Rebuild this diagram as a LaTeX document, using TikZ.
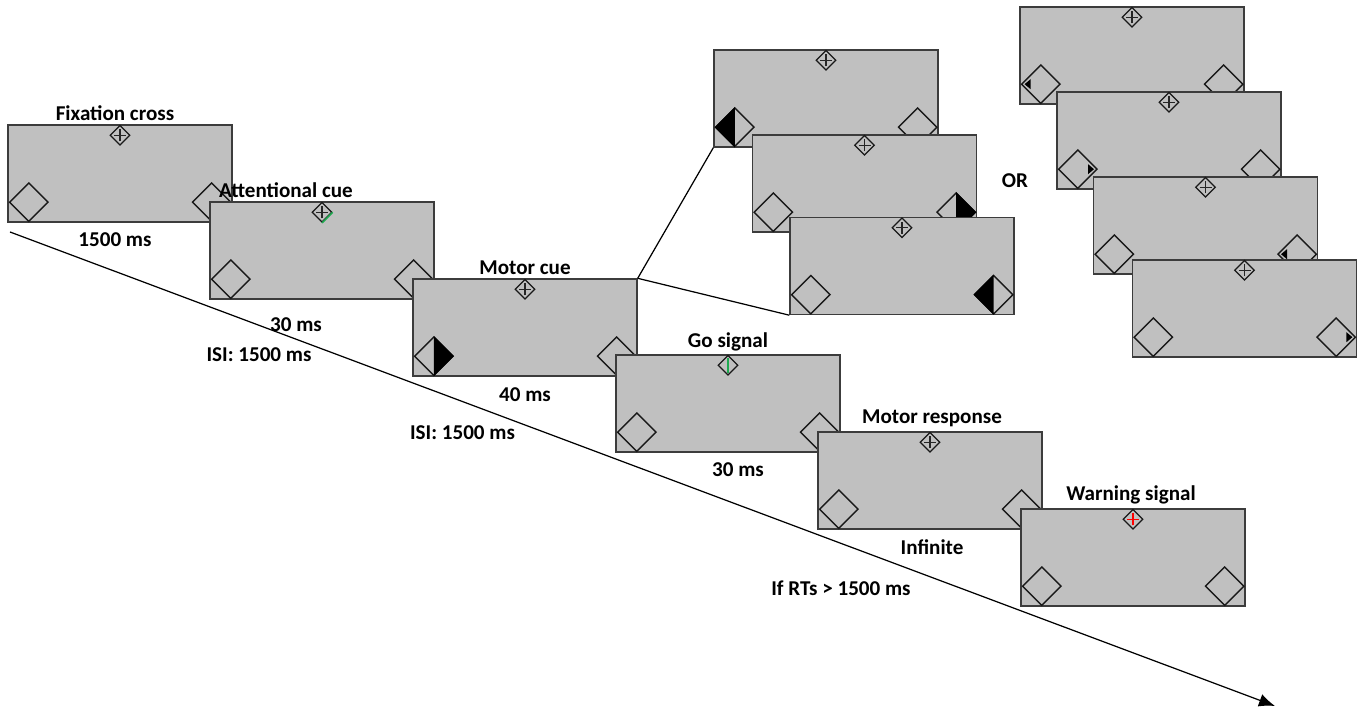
\documentclass[tikz,border=0pt]{standalone}
\usepackage{fontspec}
\setmainfont{Carlito}
\usetikzlibrary{shapes.geometric,arrows.meta}

\definecolor{screengray}{RGB}{192,192,192}
\definecolor{framegray}{RGB}{60,60,60}
\definecolor{cuegreen}{RGB}{30,170,80}

\begin{document}
\begin{tikzpicture}[
  screen/.style={draw=framegray, line width=0.8pt, fill=screengray,
    minimum width=4.48cm, minimum height=1.94cm, inner sep=0pt},
  target/.style={draw=black!90, line width=0.8pt, diamond, aspect=1,
    minimum size=0.78cm, inner sep=0pt},
  fixdot/.style={draw=black!90, line width=0.7pt, diamond, aspect=1,
    minimum size=0.40cm, inner sep=0pt},
  fixcross/.style={fixdot, path picture={
    \draw[#1, line width=0.6pt] ([xshift=-0.12cm]path picture bounding box.center)
      -- ([xshift=0.12cm]path picture bounding box.center);
    \draw[#1, line width=0.6pt] ([yshift=-0.12cm]path picture bounding box.center)
      -- ([yshift=0.12cm]path picture bounding box.center);}},
  fixcross/.default=black!85,
  lbl/.style={font=\bfseries\fontsize{12}{14}\selectfont, inner sep=0pt}
]
\useasboundingbox (0,0) rectangle (27.36,14.22);

% Time axis
\coordinate (tstart) at (0.20,9.58);
\coordinate (tend) at (25.50,0.10);
\draw[line width=0.7pt, -{Latex[length=0.32cm, width=0.26cm]}] (tstart) -- (tend);

% Fixation cross
\node[screen] (fix) at (2.40,10.75) {};
\node[fixcross] (fixc) at ([yshift=-0.22cm]fix.north) {};
\node[target] (fixl) at ([shift={(0.43,0.41)}]fix.south west) {};
\node[target] (fixr) at ([shift={(-0.42,0.41)}]fix.south east) {};
\node[lbl] (fixlbl) at (2.30,11.96) {Fixation cross};
\node[lbl] (fixdur) at (2.30,9.42) {1500 ms};

% Attentional cue
\node[screen] (att) at (6.44,9.21) {};
\node[fixcross] (attc) at ([yshift=-0.22cm]att.north) {};
\draw[cuegreen, line width=0.9pt] (attc.south) -- (attc.east);
\node[target] (attl) at ([shift={(0.43,0.41)}]att.south west) {};
\node[target] (attr) at ([shift={(-0.42,0.41)}]att.south east) {};
\node[lbl] (attlbl) at (5.72,10.42) {Attentional cue};
\node[lbl] (attdur) at (5.92,7.72) {30 ms};
\node[lbl] (isia) at (5.18,7.12) {ISI: 1500 ms};

% Motor cue
\node[screen] (mot) at (10.50,7.67) {};
\node[fixcross] (motc) at ([yshift=-0.22cm]mot.north) {};
\node[target] (motl) at ([shift={(0.43,0.41)}]mot.south west) {};
\fill (motl.north) -- (motl.east) -- (motl.south) -- cycle;
\node[target] (motr) at ([shift={(-0.42,0.41)}]mot.south east) {};
\node[lbl] (motlbl) at (10.50,8.86) {Motor cue};
\node[lbl] (motdur) at (10.50,6.32) {40 ms};
\node[lbl] (isib) at (9.25,5.56) {ISI: 1500 ms};

% Go signal
\node[screen] (go) at (14.56,6.15) {};
\node[fixdot] (goc) at ([yshift=-0.22cm]go.north) {};
\draw[cuegreen, line width=1pt] ([yshift=-0.06cm]goc.north) -- ([yshift=0.06cm]goc.south);
\node[target] (gol) at ([shift={(0.43,0.41)}]go.south west) {};
\node[target] (gor) at ([shift={(-0.42,0.41)}]go.south east) {};
\node[lbl] (golbl) at (14.56,7.38) {Go signal};
\node[lbl] (godur) at (14.76,4.82) {30 ms};

% Motor response
\node[screen] (resp) at (18.60,4.61) {};
\node[fixcross] (respc) at ([yshift=-0.22cm]resp.north) {};
\node[target] (respl) at ([shift={(0.43,0.41)}]resp.south west) {};
\node[target] (respr) at ([shift={(-0.42,0.41)}]resp.south east) {};
\node[lbl] (resplbl) at (18.64,5.86) {Motor response};
\node[lbl] (respdur) at (18.64,3.28) {Infinite};
\node[lbl] (rtlbl) at (16.82,2.46) {If RTs > 1500 ms};

% Warning signal
\node[screen] (warn) at (22.66,3.07) {};
\node[fixcross=red] (warnc) at ([yshift=-0.22cm]warn.north) {};
\node[target] (warnl) at ([shift={(0.43,0.41)}]warn.south west) {};
\node[target] (warnr) at ([shift={(-0.42,0.41)}]warn.south east) {};
\node[lbl] (warnlbl) at (22.62,4.32) {Warning signal};

% Motor cue variants
\node[screen] (cuea) at (16.52,12.25) {};
\node[fixcross] (cueac) at ([yshift=-0.22cm]cuea.north) {};
\node[target] (cueal) at ([shift={(0.43,0.41)}]cuea.south west) {};
\fill (cueal.north) -- (cueal.west) -- (cueal.south) -- cycle;
\node[target] (cuear) at ([shift={(-0.42,0.41)}]cuea.south east) {};

\node[screen] (cueb) at (17.29,10.55) {};
\node[fixcross] (cuebc) at ([yshift=-0.22cm]cueb.north) {};
\node[target] (cuebl) at ([shift={(0.43,0.41)}]cueb.south west) {};
\node[target] (cuebr) at ([shift={(-0.42,0.41)}]cueb.south east) {};
\fill (cuebr.north) -- (cuebr.east) -- (cuebr.south) -- cycle;

\node[screen] (cuec) at (18.04,8.90) {};
\node[fixcross] (cuecc) at ([yshift=-0.22cm]cuec.north) {};
\node[target] (cuecl) at ([shift={(0.43,0.41)}]cuec.south west) {};
\node[target] (cuecr) at ([shift={(-0.42,0.41)}]cuec.south east) {};
\fill (cuecr.north) -- (cuecr.west) -- (cuecr.south) -- cycle;

\draw[line width=0.7pt] (mot.north east) -- (cuea.south west);
\draw[line width=0.7pt] (mot.north east) -- (cuec.south west);

\node[lbl] (orlbl) at (20.30,10.60) {OR};

% Small arrow variants
\node[screen] (arra) at (22.64,13.11) {};
\node[fixcross] (arrac) at ([yshift=-0.22cm]arra.north) {};
\node[target] (arral) at ([shift={(0.43,0.41)}]arra.south west) {};
\fill ([xshift=0.08cm]arral.west) -- ++(0.12,0.10) -- ++(0,-0.20) -- cycle;
\node[target] (arrar) at ([shift={(-0.42,0.41)}]arra.south east) {};

\node[screen] (arrb) at (23.38,11.41) {};
\node[fixcross] (arrbc) at ([yshift=-0.22cm]arrb.north) {};
\node[target] (arrbl) at ([shift={(0.43,0.41)}]arrb.south west) {};
\fill ([xshift=-0.08cm]arrbl.east) -- ++(-0.12,0.10) -- ++(0,-0.20) -- cycle;
\node[target] (arrbr) at ([shift={(-0.42,0.41)}]arrb.south east) {};

\node[screen] (arrc) at (24.11,9.71) {};
\node[fixcross] (arrcc) at ([yshift=-0.22cm]arrc.north) {};
\node[target] (arrcl) at ([shift={(0.43,0.41)}]arrc.south west) {};
\node[target] (arrcr) at ([shift={(-0.42,0.41)}]arrc.south east) {};
\fill ([xshift=0.08cm]arrcr.west) -- ++(0.12,0.10) -- ++(0,-0.20) -- cycle;

\node[screen] (arrd) at (24.89,8.05) {};
\node[fixcross] (arrdc) at ([yshift=-0.22cm]arrd.north) {};
\node[target] (arrdl) at ([shift={(0.43,0.41)}]arrd.south west) {};
\node[target] (arrdr) at ([shift={(-0.42,0.41)}]arrd.south east) {};
\fill ([xshift=-0.08cm]arrdr.east) -- ++(-0.12,0.10) -- ++(0,-0.20) -- cycle;

\end{tikzpicture}
\end{document}
